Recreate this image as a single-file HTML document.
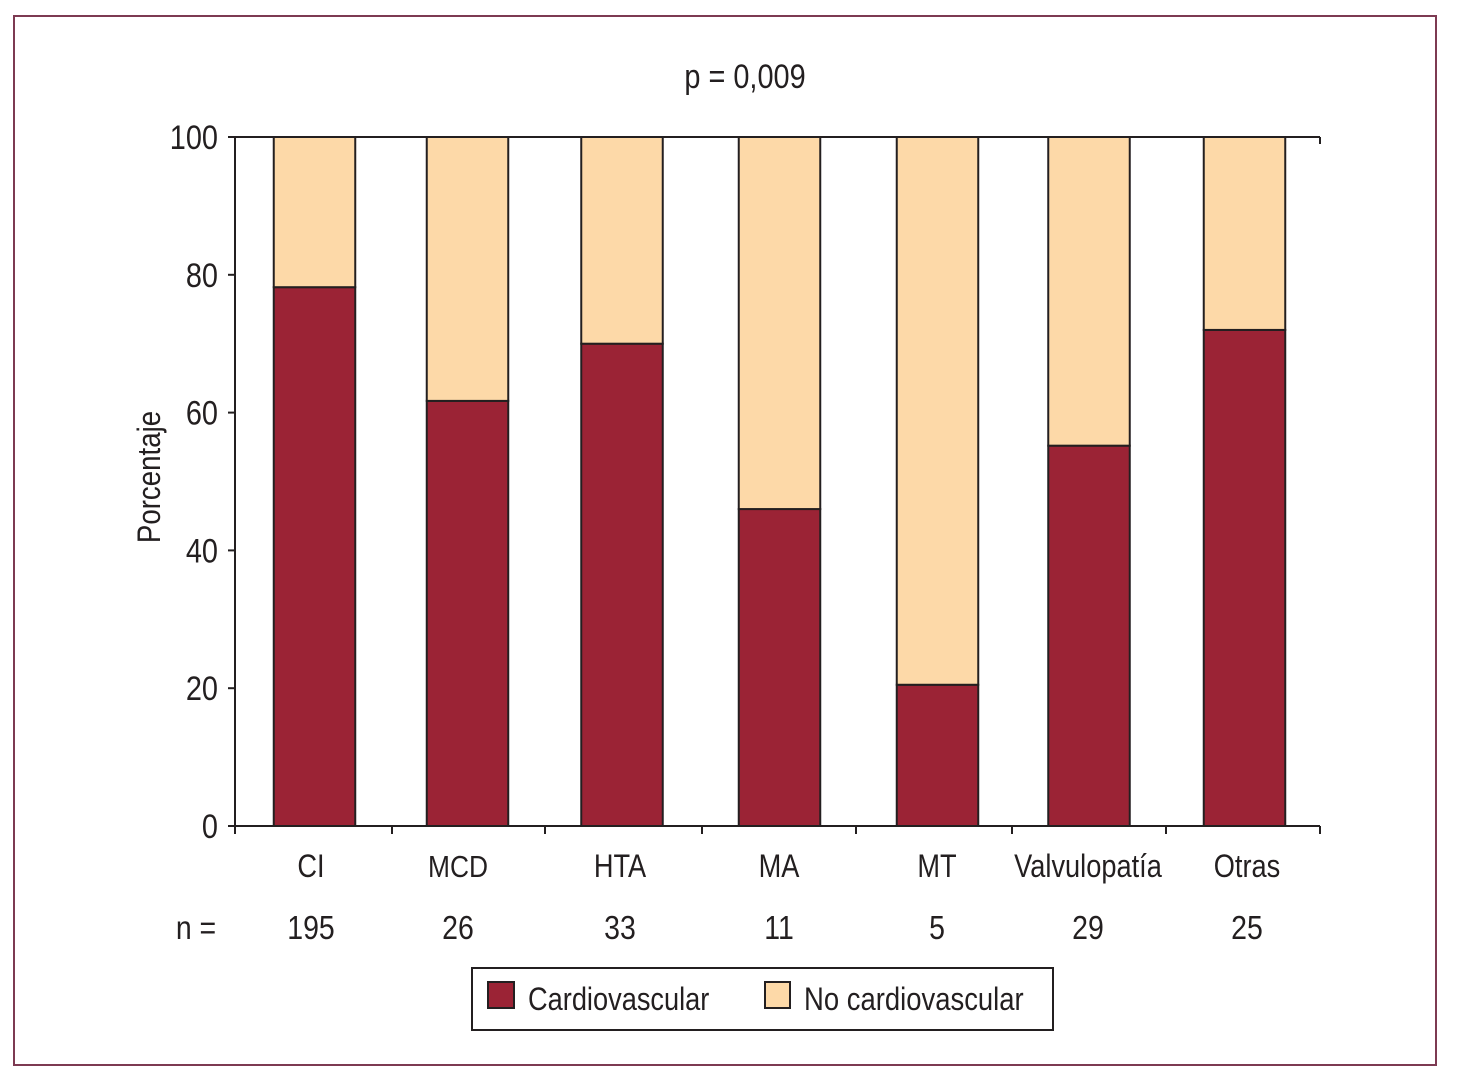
<!DOCTYPE html>
<html lang="es">
<head>
<meta charset="utf-8">
<title>Porcentaje por causa</title>
<style>
html,body{margin:0;padding:0;background:#fff;width:1462px;height:1087px;overflow:hidden}
svg{display:block}
text{font-family:"Liberation Sans",Arial,sans-serif;font-size:32px;fill:#231f20}
</style>
</head>
<body>
<svg id="chart" xmlns="http://www.w3.org/2000/svg" width="1462" height="1087" viewBox="0 0 1462 1087">
  <rect width="1462" height="1087" fill="#fff"/>
  <rect x="14" y="16" width="1422" height="1049" fill="none" stroke="#7d3a52" stroke-width="2"/>
</svg>
<script>
const categories = ['CI', 'MCD', 'HTA', 'MA', 'MT', 'Valvulopatía', 'Otras'];
const counts = ['195', '26', '33', '11', '5', '29', '25'];
const cardiovascular = [78.2, 61.7, 70, 46, 20.5, 55.2, 72];
const noCardiovascular = [21.8, 38.3, 30, 54, 79.5, 44.8, 28];
const yTicks = [0, 20, 40, 60, 80, 100];

const NS = 'http://www.w3.org/2000/svg';
const svg = document.getElementById('chart');
const INK = '#231f20', RED = '#9b2335', PEACH = '#fdd9a8';
const left = 235, right = 1320, top_ = 137, bottom = 826, barW = 81.5, squeeze = 0.85;
const band = (right - left) / categories.length;

/* The source figure's category axis is hand-set and slightly uneven;
   these scale functions reproduce that unevenness as offsets from a uniform band. */
function barCenter(i) {
  const n = (i % 7 + 7) % 7;
  return left + band * (i + 0.5) + [2, 0, -0.5, 2, 5, 1.5, 2][n];
}
function labelCenter(i) {
  const n = (i % 7 + 7) % 7;
  return left + band * (i + 0.5) + [-1.5, -9.5, -2.5, 1.5, 4.5, 0.5, 4.5][n];
}
function tickX(i) {
  return left + band * i + [0, 2, 0, 2, 1, 2, 1, 0][i];
}
const y = v => bottom - (v / 100) * (bottom - top_);

function make(tag, attrs, parent) {
  const el = document.createElementNS(NS, tag);
  for (const k in attrs) el.setAttribute(k, attrs[k]);
  (parent || svg).appendChild(el);
  return el;
}
function label(str, x, yy, anchor, size) {
  const el = make('text', {
    transform: 'translate(' + x + ',' + yy + ') scale(' + squeeze + ',1)',
    'text-anchor': anchor || 'middle'
  });
  if (size) el.style.fontSize = size + 'px';
  el.textContent = str;
  return el;
}

categories.forEach((c, i) => {
  const x = barCenter(i) - barW / 2;
  const lower = make('rect', {
    x: x, y: y(cardiovascular[i]), width: barW,
    height: y(0) - y(cardiovascular[i]),
    fill: RED, stroke: INK, 'stroke-width': 2
  });
  
  
  const upper = make('rect', {
    x: x, y: y(cardiovascular[i] + noCardiovascular[i]), width: barW,
    height: y(cardiovascular[i]) - y(cardiovascular[i] + noCardiovascular[i]),
    fill: PEACH, stroke: INK, 'stroke-width': 2
  });
  
  

  const catLabel = label(c, labelCenter(i), 877, 'middle', c === 'MCD' ? 31 : 32);
  
  
  const countLabel = label(counts[i], labelCenter(i), 939, 'middle', 33.5);
  
  
});

const yAxis = make('line', {x1: left, y1: top_, x2: left, y2: bottom, stroke: INK, 'stroke-width': 2});


const xAxis = make('line', {x1: left - 6, y1: bottom, x2: right, y2: bottom, stroke: INK, 'stroke-width': 2});


const topLine = make('line', {x1: left - 6, y1: top_, x2: right, y2: top_, stroke: INK, 'stroke-width': 2});



yTicks.forEach(t => {
  const tick = make('line', {x1: left - 7, y1: y(t), x2: left, y2: y(t), stroke: INK, 'stroke-width': 2});
  
  
  const tl = label(String(t), left - 17, y(t) + 12, 'end', 34);
  
  
});

for (let i = 0; i <= categories.length; i++) {
  const tx = tickX(i);
  const tick = make('line', {x1: tx, y1: bottom, x2: tx, y2: bottom + 8, stroke: INK, 'stroke-width': 2});
  
  
}
const rightTick = make('line', {x1: right, y1: top_, x2: right, y2: top_ + 7, stroke: INK, 'stroke-width': 2});



const title = label('p = 0,009', 745, 88, 'middle', 34);



const nLabel = label('n =', 196, 939, 'middle', 33.5);



const yTitle = make('text', {
  transform: 'translate(160,477) rotate(-90) scale(0.865,1)',
  'text-anchor': 'middle'
});
yTitle.textContent = 'Porcentaje';



const legendBox = make('rect', {x: 472, y: 968, width: 581, height: 62, fill: '#fff', stroke: INK, 'stroke-width': 2});


const swatchA = make('rect', {x: 488, y: 982, width: 26, height: 26, fill: RED, stroke: INK, 'stroke-width': 2});


const legendA = label('Cardiovascular', 528, 1010, 'start');


const swatchB = make('rect', {x: 765, y: 982, width: 25, height: 26, fill: PEACH, stroke: INK, 'stroke-width': 2});


const legendB = label('No cardiovascular', 804, 1010, 'start', 32.3);


</script>
</body>
</html>
